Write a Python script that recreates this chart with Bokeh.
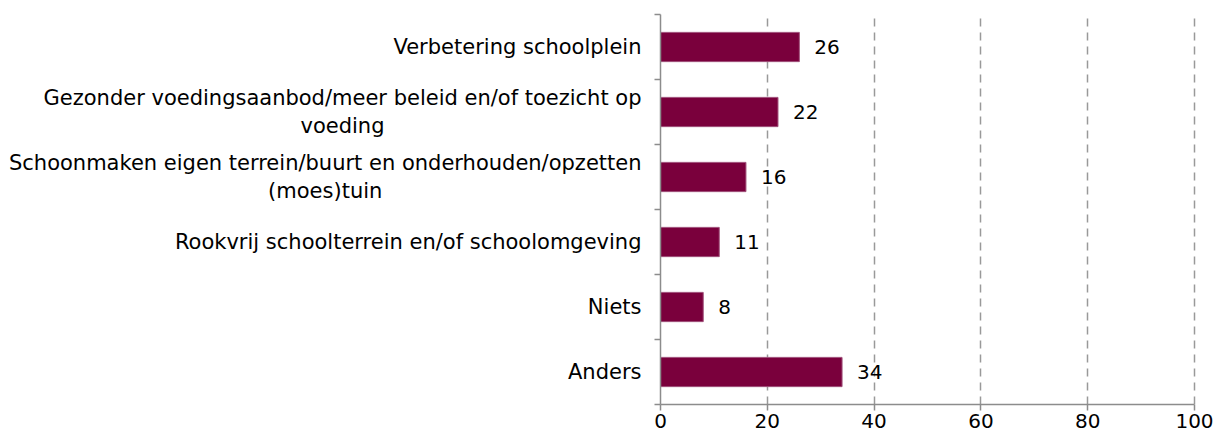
from bokeh.plotting import figure
from bokeh.layouts import row
from bokeh.models import Range1d, FixedTicker, ColumnDataSource
from bokeh.core.properties import value
from bokeh.embed import file_html
from bokeh.resources import INLINE

categories = [
    "Verbetering schoolplein",
    "Gezonder voedingsaanbod/meer beleid en/of toezicht op\nvoeding",
    "Schoonmaken eigen terrein/buurt en onderhouden/opzetten\n(moes)tuin",
    "Rookvrij schoolterrein en/of schoolomgeving",
    "Niets",
    "Anders",
]
values = [26, 22, 16, 11, 8, 34]
x_ticks = [0, 20, 40, 60, 80, 100]

n = len(categories)
y_centers = [n - i - 0.5 for i in range(n)]
y_bounds = [float(i) for i in range(n + 1)]

FONT = "DejaVu Sans"
BAR = "#7A003C"
GRAY = "#8C8C8C"
H = 440
TOP = 14
BOTTOM = 36
X_PAD = 0.375  # small pad so the gridline at the last tick is fully visible

src = ColumnDataSource(dict(
    y=y_centers,
    value=values,
    label=[str(v) for v in values],
))
y_range = Range1d(0, n)

# ---- left panel: category labels ----
lab_range = Range1d(0, 1)
cat_src = ColumnDataSource(dict(y=y_centers, text=categories,
                                x=[lab_range.end] * n))
pl = figure(width=652, height=H, output_backend="svg", toolbar_location=None,
            x_range=lab_range, y_range=y_range,
            x_axis_location=None, y_axis_location=None,
            min_border_left=0, min_border_right=0,
            min_border_top=TOP, min_border_bottom=BOTTOM)
pl.outline_line_color = None
pl.grid.grid_line_color = None
pl.text(x="x", y="y", text="text", source=cat_src, x_offset=-11,
        anchor="center_right", text_align="center", text_baseline="middle",
        text_font=value(FONT), text_font_size="21px", text_color="black",
        text_line_height=1.15)

# ---- main panel: bars ----
p = figure(width=564, height=H, output_backend="svg", toolbar_location=None,
           x_range=Range1d(x_ticks[0], x_ticks[-1] + X_PAD), y_range=y_range,
           min_border_left=8, min_border_right=20, min_border_top=TOP,
           min_border_bottom=BOTTOM)
p.outline_line_color = None

p.hbar(y="y", left=0, right="value", height=0.45, source=src,
       fill_color=BAR, line_color="#A0507A", line_width=1)
p.text(x="value", y="y", text="label", source=src, x_offset=15,
       text_baseline="middle", text_align="left",
       text_font=value(FONT), text_font_size="20px", text_color="black")

xa = p.xaxis[0]
xa.ticker = FixedTicker(ticks=x_ticks, minor_ticks=[])
xa.axis_line_color = GRAY
xa.axis_line_width = 1.5
xa.major_tick_line_color = GRAY
xa.major_tick_line_width = 1.5
xa.major_tick_out = 6
xa.major_tick_in = 0
xa.minor_tick_line_color = None
xa.major_label_text_font = FONT
xa.major_label_text_font_size = "20px"
xa.major_label_text_color = "black"
xa.major_label_standoff = 3
xa.bounds = (x_ticks[0], x_ticks[-1])

ya = p.yaxis[0]
ya.ticker = FixedTicker(ticks=y_bounds, minor_ticks=[])
ya.major_label_overrides = {b: "" for b in y_bounds}
ya.major_label_text_color = None
ya.major_label_standoff = 0
ya.axis_line_color = GRAY
ya.axis_line_width = 1.5
ya.major_tick_line_color = GRAY
ya.major_tick_line_width = 1.5
ya.major_tick_out = 6
ya.major_tick_in = 0
ya.minor_tick_line_color = None

p.xgrid.ticker = FixedTicker(ticks=x_ticks[1:])
p.xgrid.grid_line_color = "#999999"
p.xgrid.grid_line_width = 1.5
p.xgrid.grid_line_dash = "8 6"
p.ygrid.grid_line_color = None

layout = row(pl, p, spacing=0)
open("out.html", "w").write(file_html(layout, INLINE))
